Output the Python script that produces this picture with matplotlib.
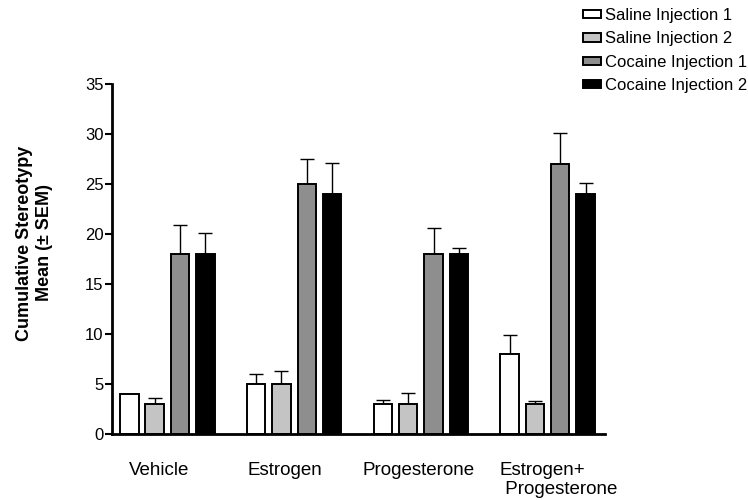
import matplotlib

matplotlib.use("Agg")
import matplotlib.pyplot as plt
import matplotlib.transforms as mtransforms
import numpy as np

# data
groups = ["Vehicle", "Estrogen", "Progesterone", "Estrogen+\n Progesterone"]
series = ["Saline Injection 1", "Saline Injection 2", "Cocaine Injection 1", "Cocaine Injection 2"]
saline1 = [4.0, 5.0, 3.0, 8.0]
saline1_sem = [0.0, 1.0, 0.4, 1.9]
saline2 = [3.0, 5.0, 3.0, 3.0]
saline2_sem = [0.6, 1.35, 1.1, 0.3]
cocaine1 = [18.0, 25.0, 18.0, 27.0]
cocaine1_sem = [2.9, 2.5, 2.6, 3.1]
cocaine2 = [18.0, 24.0, 18.0, 24.0]
cocaine2_sem = [2.1, 3.1, 0.6, 1.1]

colors = ["#ffffff", "#c4c4c4", "#8e8e8e", "#000000"]

plt.rcParams["font.family"] = ["Liberation Sans", "DejaVu Sans"]

fig = plt.figure(figsize=(7.48, 5.0), dpi=100)
ax = fig.add_axes([0.1497, 0.132, 0.659, 0.70])

x = np.arange(len(groups))
width = 0.147
pitch = 0.2
values = [saline1, saline2, cocaine1, cocaine2]
sems = [saline1_sem, saline2_sem, cocaine1_sem, cocaine2_sem]
for i, (vals, err, col, name) in enumerate(zip(values, sems, colors, series)):
    pos = x + (i - 1.5) * pitch
    ax.bar(pos, vals, width, color=col, edgecolor="black", linewidth=1.4, label=name, zorder=2)
    ax.errorbar(pos, vals, yerr=[np.zeros(len(err)), err], fmt="none", ecolor="black",
                elinewidth=1.0, capsize=5, capthick=1.0, zorder=1)

ax.set_xlim(-0.438, 3.453)
ax.set_ylim(0, 35)
ax.set_yticks(range(0, 36, 5))
ax.tick_params(axis="y", labelsize=12, length=5, width=1.5, pad=1)
ax.tick_params(axis="x", length=0, labelsize=13.5, pad=20)
ax.set_xticks(x)
ax.set_xticklabels(groups)
for sp in ["top", "right"]:
    ax.spines[sp].set_visible(False)
for sp in ["left", "bottom"]:
    ax.spines[sp].set_linewidth(2)

# nudge the group labels to where they sit in the original
shifts_px = [-8, -9, -2, 11]
for lab, dx in zip(ax.get_xticklabels(), shifts_px):
    lab.set_transform(lab.get_transform() + mtransforms.ScaledTranslation(dx / 100, 0, fig.dpi_scale_trans))
ax.get_xticklabels()[-1].set_multialignment("left")

ax.set_ylabel("Cumulative Stereotypy\nMean (± SEM)", fontsize=13, fontweight="bold", labelpad=23)
ax.yaxis.label.set_y(0.546)

fig.legend(loc="upper left", bbox_to_anchor=(583 / 748, 1 - 8 / 500), frameon=False,
           fontsize=12, handlelength=1.1, handleheight=0.4, handletextpad=0.2,
           labelspacing=0.5, borderpad=0, borderaxespad=0)

fig.savefig("out.png", dpi=100)
